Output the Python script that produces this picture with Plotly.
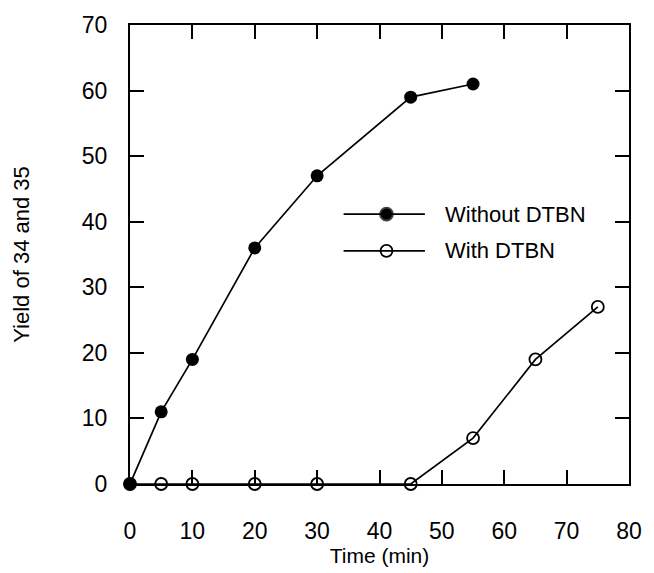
import plotly.graph_objects as go

# Reaction time (min) and yield (%) of products 34 and 35
time_without = [0, 5, 10, 20, 30, 45, 55]
yield_without = [0, 11, 19, 36, 47, 59, 61]

time_with = [0, 5, 10, 20, 30, 45, 55, 65, 75]
yield_with = [0, 0, 0, 0, 0, 0, 7, 19, 27]

x_ticks = [0, 10, 20, 30, 40, 50, 60, 70, 80]
y_ticks = [0, 10, 20, 30, 40, 50, 60, 70]

series_names = ["Without DTBN", "With DTBN"]

FONT = "Liberation Sans, Arial, Helvetica, sans-serif"
INK = "black"

fig = go.Figure()

fig.add_trace(go.Scatter(
    x=time_without, y=yield_without, mode="lines+markers",
    name=series_names[0],
    line=dict(color=INK, width=1.7),
    marker=dict(symbol="circle", size=13, color=INK),
    cliponaxis=False, showlegend=False,
))
fig.add_trace(go.Scatter(
    x=time_with, y=yield_with, mode="lines+markers",
    name=series_names[1],
    line=dict(color=INK, width=1.7),
    marker=dict(symbol="circle-open", size=12, color=INK, line=dict(width=1.8)),
    cliponaxis=False, showlegend=False,
))

# Hand-built legend: long line samples with the marker centred on them
legend_rows_y = [0.588, 0.508]
line_x0, line_x1, mark_x, text_x = 0.428, 0.591, 0.514, 0.628
symbols = ["circle", "circle-open"]
sizes = [13, 12]
for name, ry, sym, sz in zip(series_names, legend_rows_y, symbols, sizes):
    fig.add_shape(type="line", xref="paper", yref="paper",
                  x0=line_x0, x1=line_x1, y0=ry, y1=ry,
                  line=dict(color=INK, width=1.7))
    fig.add_trace(go.Scatter(
        x=[mark_x], y=[ry], xaxis="x2", yaxis="y2", mode="markers",
        marker=dict(symbol=sym, size=sz, color=INK, line=dict(width=1.8)),
        showlegend=False, hoverinfo="skip",
    ))
    fig.add_annotation(x=text_x, y=ry, xref="paper", yref="paper",
                       text=name, showarrow=False, xanchor="left",
                       yanchor="middle", font=dict(size=22, color=INK))

axis_common = dict(
    showgrid=False, zeroline=False,
    showline=True, linecolor=INK, linewidth=2, mirror="ticks",
    ticks="inside", ticklen=14, tickwidth=1.7, tickcolor=INK,
    tickfont=dict(size=23, color=INK),
)

fig.update_layout(
    width=654, height=573,
    margin=dict(l=130, r=16, t=23, b=89),
    paper_bgcolor="white", plot_bgcolor="white",
    font=dict(family=FONT, color=INK),
    xaxis=dict(range=[0, 80], tickvals=x_ticks, ticklabelstandoff=25,
               title=dict(text="Time (min)", standoff=0,
                          font=dict(size=21)),
               **axis_common),
    yaxis=dict(range=[0, 70], tickvals=y_ticks, ticklabelstandoff=16,
               title=dict(text="Yield of 34 and 35", standoff=46,
                          font=dict(size=22)),
               **axis_common),
    xaxis2=dict(range=[0, 1], overlaying="x", visible=False, domain=[0, 1]),
    yaxis2=dict(range=[0, 1], overlaying="y", visible=False, domain=[0, 1]),
)

fig.write_html("out.html")
